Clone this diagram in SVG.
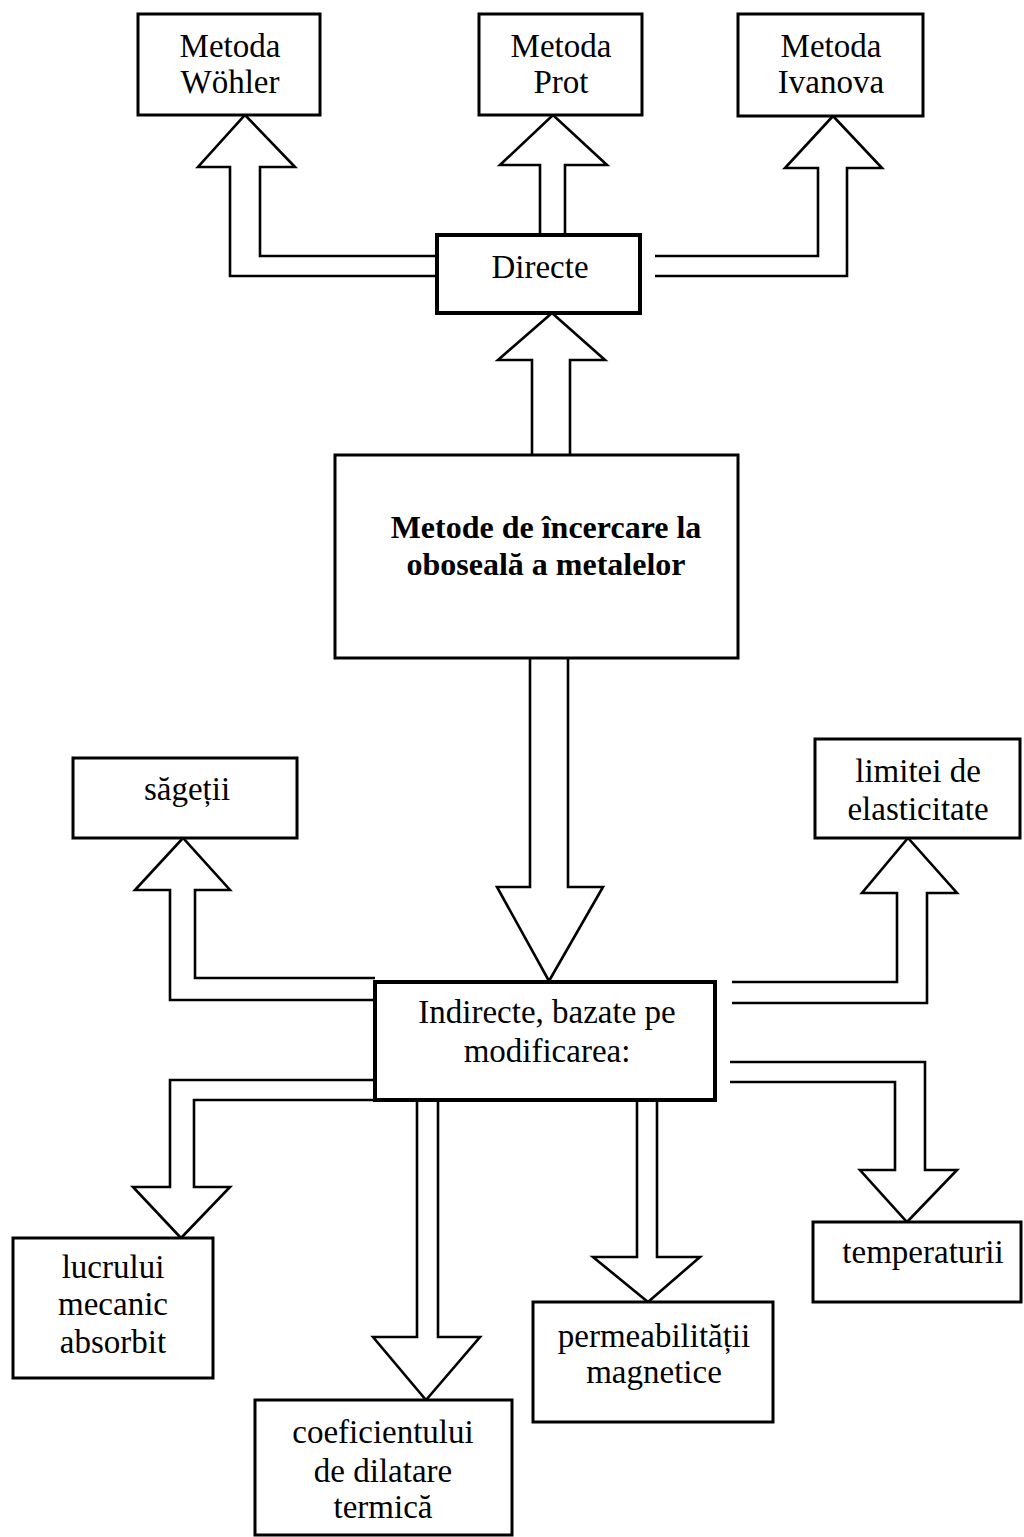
<svg xmlns="http://www.w3.org/2000/svg" width="1024" height="1537" viewBox="0 0 1024 1537">
<style>
.box{fill:#fff;stroke:#000;stroke-width:3}
.thick{stroke-width:4}
.arr{fill:none;stroke:#000;stroke-width:2.6;stroke-linejoin:miter}
text{font-family:"Liberation Serif","Times New Roman",serif;font-size:33px;fill:#000;text-anchor:middle}
.b{font-weight:bold;font-size:32px}
</style>
<rect width="1024" height="1537" fill="#fff"/>
<g id="connectors">
<path class="arr" d="M437,276 H230 V167 H198 L245,115 L295,167 H260 V256 H437"/>
<path class="arr" d="M540,235 V165 H500 L553,115 L607,165 H565 V235"/>
<path class="arr" d="M655,256 H818 V168 H785 L833,116 L882,168 H847 V276 H655"/>
<path class="arr" d="M532,455 V360 H498 L552,313 L605,360 H570 V455"/>
<path class="arr" d="M530,658 V887 H497 L549,981 L603,887 H568 V658"/>
<path class="arr" d="M375,1000 H170 V890 H135 L183,838 L230,890 H195 V978 H375"/>
<path class="arr" d="M732,982 H897 V893 H862 L908,838 L957,893 H927 V1003 H732"/>
<path class="arr" d="M375,1080 H170 V1187 H133 L181,1238 L230,1187 H194 V1100 H375"/>
<path class="arr" d="M417,1100 V1337 H373 L426,1400 L480,1337 H438 V1100"/>
<path class="arr" d="M637,1100 V1257 H593 L648,1302 L700,1257 H657 V1100"/>
<path class="arr" d="M730,1062 H925 V1170 H957 L907,1222 L860,1170 H895 V1082 H730"/>
</g>
<g id="wohler"><rect class="box" x="138" y="14" width="182" height="101"/><text x="230" y="57">Metoda</text><text x="230" y="93">Wöhler</text></g>
<g id="prot"><rect class="box" x="479" y="14" width="163" height="101"/><text x="561" y="57">Metoda</text><text x="561" y="93">Prot</text></g>
<g id="ivanova"><rect class="box" x="738" y="14" width="185" height="102"/><text x="831" y="57">Metoda</text><text x="831" y="93">Ivanova</text></g>
<g id="directe"><rect class="box thick" x="437" y="235" width="203" height="78"/><text x="540" y="278">Directe</text></g>
<g id="main"><rect class="box" x="335" y="455" width="403" height="203"/><text class="b" x="546" y="538">Metode de încercare la</text><text class="b" x="546" y="575">oboseală a metalelor</text></g>
<g id="sagetii"><rect class="box" x="73" y="758" width="224" height="80"/><text x="187" y="800">săgeții</text></g>
<g id="limitei"><rect class="box" x="815" y="739" width="205" height="99"/><text x="918" y="782">limitei de</text><text x="918" y="820">elasticitate</text></g>
<g id="indirecte"><rect class="box thick" x="375" y="982" width="340" height="118"/><text x="547" y="1023">Indirecte, bazate pe</text><text x="547" y="1062">modificarea:</text></g>
<g id="lucrului"><rect class="box" x="13" y="1238" width="200" height="140"/><text x="113" y="1278">lucrului</text><text x="113" y="1315">mecanic</text><text x="113" y="1353">absorbit</text></g>
<g id="coef"><rect class="box" x="255" y="1400" width="257" height="135"/><text x="383" y="1443">coeficientului</text><text x="383" y="1482">de dilatare</text><text x="383" y="1518">termică</text></g>
<g id="perm"><rect class="box" x="533" y="1302" width="240" height="120"/><text x="654" y="1347">permeabilității</text><text x="654" y="1383">magnetice</text></g>
<g id="temp"><rect class="box" x="813" y="1222" width="208" height="80"/><text x="923" y="1263">temperaturii</text></g>
</svg>
